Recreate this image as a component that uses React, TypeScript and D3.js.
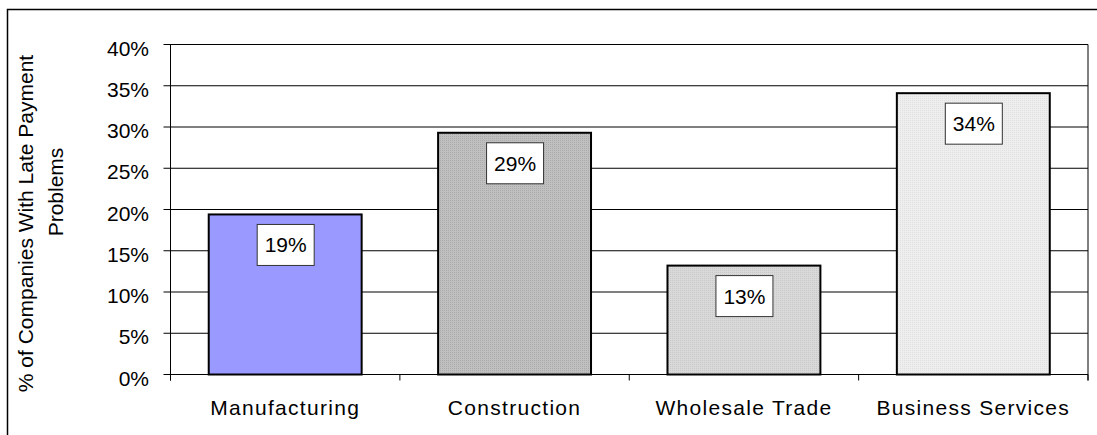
import React from "react";
import * as d3 from "d3";

const categories = ["Manufacturing", "Construction", "Wholesale Trade", "Business Services"];
const values = [0.194, 0.293, 0.132, 0.341];
const valueLabels = ["19%", "29%", "13%", "34%"];
const yTicks = [0, 0.05, 0.1, 0.15, 0.2, 0.25, 0.3, 0.35, 0.4];
const barColors = ["#9999ff", "#c0c0c0", "#d9d9d9", "#eeeeee"];
const dotColors = ["#9999ff", "#aaaaaa", "#c8c8c8", "#e0e0e0"];
const titleLines = ["% of Companies With Late Payment", "Problems"];

const W = 1097;
const H = 435;
const plot = { left: 170.5, right: 1088, top: 44.5, bottom: 374.5 };
const FONT = "Arial, 'Liberation Sans', sans-serif";

export default function App() {
  const x = d3
    .scaleBand<string>()
    .domain(categories)
    .range([plot.left, plot.right])
    .paddingInner(1 / 3)
    .paddingOuter(1 / 6);
  const y = d3.scaleLinear().domain([0, 0.4]).range([plot.bottom, plot.top]);
  const fmt = d3.format(".0%");
  const step = x.step();
  const boundaries = d3.range(categories.length + 1).map((i) => plot.left + i * step);

  return (
    <svg
      width={W}
      height={H}
      style={{ position: "absolute", left: 0, top: 0, background: "#fff" }}
      fontFamily={FONT}
    >
      <defs>
        {barColors.map((c, i) => (
          <pattern key={i} id={`pat${i}`} width={2} height={2} patternUnits="userSpaceOnUse">
            <rect width={2} height={2} fill={c} />
            <rect width={1} height={1} fill={dotColors[i]} />
          </pattern>
        ))}
      </defs>
      {/* outer frame */}
      <rect x={7.5} y={9.5} width={1200} height={600} fill="none" stroke="#000" strokeWidth={1.5} />

      {/* gridlines */}
      {yTicks.map((t) => (
        <line key={t} x1={plot.left - 7} x2={plot.right} y1={y(t)} y2={y(t)} stroke="#000" strokeWidth={1} />
      ))}
      {/* y axis */}
      <line x1={plot.left} x2={plot.left} y1={plot.top} y2={plot.bottom + 6} stroke="#000" strokeWidth={1} />
      <line x1={plot.right} x2={plot.right} y1={plot.top} y2={plot.bottom + 6} stroke="#000" strokeWidth={1} />
      {/* x ticks */}
      {boundaries.map((b, i) => (
        <line key={i} x1={b} x2={b} y1={plot.bottom} y2={plot.bottom + 6} stroke="#000" strokeWidth={1} />
      ))}
      {/* y tick labels */}
      {yTicks.map((t) => (
        <text key={t} x={149} y={y(t) + 11} textAnchor="end" fontSize={21} fill="#000">
          {fmt(t)}
        </text>
      ))}

      {/* bars */}
      {categories.map((c, i) => {
        const bx = x(c)!;
        const bw = x.bandwidth();
        const top = y(values[i]);
        const cx = bx + bw / 2;
        return (
          <g key={c}>
            <rect x={bx} y={top} width={bw} height={plot.bottom - top} fill={`url(#pat${i})`} stroke="#000" strokeWidth={2} />
            <rect x={cx - 28} y={top + 10} width={57} height={41} fill="#fff" stroke="#333" strokeWidth={1} />
            <text x={cx + 0.5} y={top + 38} textAnchor="middle" fontSize={21} fill="#000">
              {valueLabels[i]}
            </text>
            <text x={cx} y={415} textAnchor="middle" fontSize={21} letterSpacing={1.3} fill="#000">
              {c}
            </text>
          </g>
        );
      })}

      {/* y axis title */}
      <text transform={`translate(33,223.5) rotate(-90)`} textAnchor="middle" fontSize={21} fill="#000">
        {titleLines[0]}
      </text>
      <text transform={`translate(63,192) rotate(-90)`} textAnchor="middle" fontSize={21} fill="#000">
        {titleLines[1]}
      </text>
    </svg>
  );
}
